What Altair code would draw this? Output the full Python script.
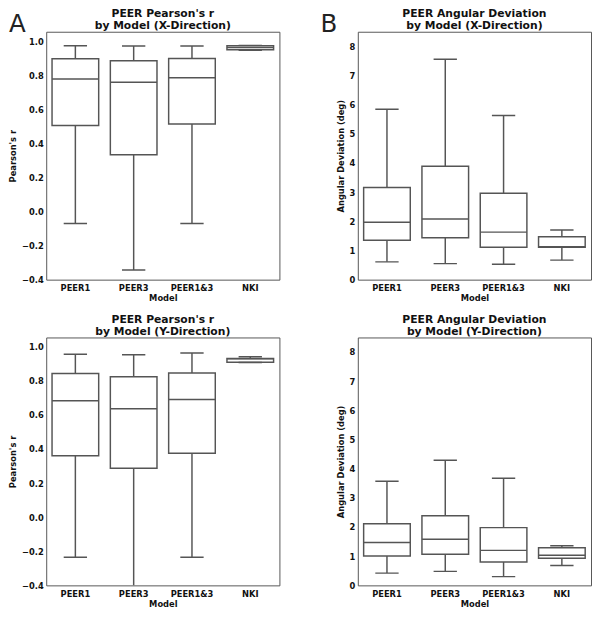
import altair as alt
import pandas as pd

models = ["PEER1", "PEER3", "PEER1&3", "NKI"]

# Pearson's r, X-direction
px_lower = [-0.070, -0.343, -0.070, 0.947]
px_q1 = [0.505, 0.333, 0.513, 0.949]
px_median = [0.778, 0.758, 0.785, 0.962]
px_q3 = [0.896, 0.885, 0.898, 0.973]
px_upper = [0.973, 0.971, 0.971, 0.975]

# Angular deviation, X-direction
ax_lower = [0.61, 0.55, 0.53, 0.67]
ax_q1 = [1.35, 1.44, 1.11, 1.11]
ax_median = [1.97, 2.08, 1.63, 1.13]
ax_q3 = [3.16, 3.89, 2.96, 1.47]
ax_upper = [5.84, 7.56, 5.63, 1.70]

# Pearson's r, Y-direction
py_lower = [-0.235, -0.420, -0.235, 0.908]
py_q1 = [0.361, 0.287, 0.375, 0.910]
py_median = [0.684, 0.636, 0.691, 0.930]
py_q3 = [0.843, 0.825, 0.847, 0.932]
py_upper = [0.956, 0.954, 0.964, 0.942]

# Angular deviation, Y-direction
ay_lower = [0.42, 0.48, 0.30, 0.68]
ay_q1 = [1.01, 1.07, 0.80, 0.93]
ay_median = [1.47, 1.58, 1.20, 1.03]
ay_q3 = [2.11, 2.39, 1.98, 1.29]
ay_upper = [3.57, 4.29, 3.67, 1.36]

pearson_ticks = [-0.4, -0.2, 0.0, 0.2, 0.4, 0.6, 0.8, 1.0]
angle_ticks = [0, 1, 2, 3, 4, 5, 6, 7, 8]

titles = [
    "PEER Pearson's r\nby Model (X-Direction)",
    "PEER Angular Deviation\n by Model (X-Direction)",
    "PEER Pearson's r\nby Model (Y-Direction)",
    "PEER Angular Deviation\n by Model (Y-Direction)",
]
letters = ["A", "B"]

EDGE = "#555555"
FONT = "DejaVu Sans"
W = 238
H = 253


def panel(lower, q1, med, q3, upper, title, ytitle, domain, ticks, fmt, letter=None):
    df = pd.DataFrame({"model": models, "lower": lower, "q1": q1,
                       "median": med, "q3": q3, "upper": upper})
    x = alt.X("model:N", sort=models, title="Model",
              scale=alt.Scale(paddingInner=0, paddingOuter=0),
              axis=alt.Axis(labelAngle=0, ticks=False, domain=False,
                            labelPadding=4, titlePadding=2))
    yscale = alt.Scale(domain=domain, nice=False, zero=False)
    yaxis = alt.Axis(values=ticks, format=fmt, ticks=False, domain=False,
                     grid=False, labelPadding=3, titlePadding=4,
                     labelOverlap=False)

    def Y(field):
        return alt.Y(field, scale=yscale, axis=yaxis, title=ytitle)

    base = alt.Chart(df)
    whisk = base.mark_rule(color=EDGE, strokeWidth=1.5, clip=True).encode(
        x=x, y=Y("lower:Q"), y2="upper:Q")
    box = base.mark_bar(width=alt.RelativeBandSize(0.8), fill="white",
                        stroke=EDGE, strokeWidth=1.5, clip=True).encode(
        x=x, y=Y("q1:Q"), y2="q3:Q")
    box_w = 0.8 * W / 4
    cap_w = 0.4 * W / 4
    median = base.mark_tick(color=EDGE, size=box_w, thickness=1.5, opacity=1,
                            clip=True).encode(x=x, y=Y("median:Q"))
    cap_lo = base.mark_tick(color=EDGE, size=cap_w, thickness=1.5, opacity=1,
                            clip=True).encode(x=x, y=Y("lower:Q"))
    cap_hi = base.mark_tick(color=EDGE, size=cap_w, thickness=1.5, opacity=1,
                            clip=True).encode(x=x, y=Y("upper:Q"))
    ttl = alt.Chart(pd.DataFrame({"t": [title]})).mark_text(
        align="center", baseline="alphabetic", fontSize=11, font=FONT,
        fontWeight="bold", lineBreak="\n", lineHeight=12.5, color="#111111").encode(
        text="t:N", x=alt.value(W / 2), y=alt.value(-15))
    layers = [whisk, box, median, cap_lo, cap_hi, ttl]
    if letter:
        lab = alt.Chart(pd.DataFrame({"t": [letter]})).mark_text(
            align="left", baseline="alphabetic", fontSize=25, font=FONT,
            fontWeight="normal", color="#222222").encode(
            text="t:N", x=alt.value(-38), y=alt.value(0))
        layers.append(lab)
    return alt.layer(*layers).properties(width=W, height=H)


p1 = panel(px_lower, px_q1, px_median, px_q3, px_upper, titles[0], "Pearson's r",
           [-0.4, 1.055], pearson_ticks, ".1f", letters[0])
p2 = panel(ax_lower, ax_q1, ax_median, ax_q3, ax_upper, titles[1], "Angular Deviation (deg)",
           [0, 8.5], angle_ticks, "d", letters[1])
p3 = panel(py_lower, py_q1, py_median, py_q3, py_upper, titles[2], "Pearson's r",
           [-0.4, 1.055], pearson_ticks, ".1f")
p4 = panel(ay_lower, ay_q1, ay_median, ay_q3, ay_upper, titles[3], "Angular Deviation (deg)",
           [0, 8.5], angle_ticks, "d")

chart = alt.concat(
    p1, p2, p3, p4, columns=2,
    spacing=alt.RowColnumber(row=10, column=40)
).properties(
    padding={"left": 0, "top": -7, "right": 0, "bottom": 0}
).configure_view(
    stroke=EDGE, strokeWidth=1
).configure_axis(
    labelFont=FONT, labelFontSize=8.5, labelFontWeight="bold", labelColor="#111111",
    titleFont=FONT, titleFontSize=8.5, titleFontWeight="bold", titleColor="#111111"
)

chart.save("out.html", embed_options={"renderer": "svg", "actions": False})
